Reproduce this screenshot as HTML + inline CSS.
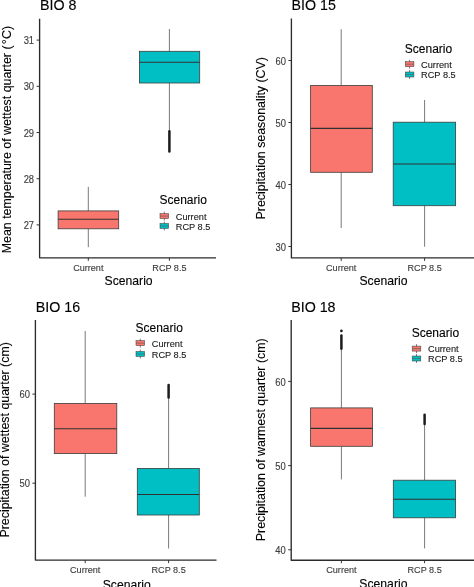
<!DOCTYPE html>
<html><head><meta charset="utf-8"><style>
html,body{margin:0;padding:0;background:#fff;}
svg{display:block;font-family:"Liberation Sans", sans-serif;will-change:transform;}
text.b{stroke:#000;stroke-width:0.12px;}
text.t{stroke:#3c3c3c;stroke-width:0.12px;}
</style></head><body>
<svg width="474" height="587" viewBox="0 0 474 587">
<rect width="474" height="587" fill="#fff"/>
<line x1="88.3" y1="186.9" x2="88.3" y2="210.9" stroke="#6a6a6a" stroke-width="0.9"/>
<line x1="88.3" y1="228.8" x2="88.3" y2="247.2" stroke="#6a6a6a" stroke-width="0.9"/>
<rect x="58.1" y="210.9" width="60.6" height="17.9" fill="#F8766D" stroke="#3d3d3d" stroke-width="0.8"/>
<line x1="58.1" y1="219.3" x2="118.7" y2="219.3" stroke="#303030" stroke-width="1.1"/>
<line x1="169.4" y1="29" x2="169.4" y2="51.3" stroke="#6a6a6a" stroke-width="0.9"/>
<line x1="169.4" y1="83" x2="169.4" y2="130.5" stroke="#6a6a6a" stroke-width="0.9"/>
<line x1="169.4" y1="131.2" x2="169.4" y2="151.4" stroke="#1c1c1c" stroke-width="2.5" stroke-linecap="round"/>
<rect x="139.4" y="51.3" width="60.3" height="31.7" fill="#00BFC4" stroke="#3d3d3d" stroke-width="0.8"/>
<line x1="139.4" y1="62.3" x2="199.7" y2="62.3" stroke="#303030" stroke-width="1.1"/>
<path d="M39.6 18.7 V257.8 H216" fill="none" stroke="#2b2b2b" stroke-width="1.35" stroke-linejoin="round"/>
<line x1="36.6" y1="40.1" x2="39.6" y2="40.1" stroke="#333" stroke-width="1"/>
<text transform="translate(34.1,44.25) scale(1,1.09)" text-anchor="end" font-size="9.4" fill="#3c3c3c" class="t">31</text>
<line x1="36.6" y1="86.3" x2="39.6" y2="86.3" stroke="#333" stroke-width="1"/>
<text transform="translate(34.1,90.45) scale(1,1.09)" text-anchor="end" font-size="9.4" fill="#3c3c3c" class="t">30</text>
<line x1="36.6" y1="132.5" x2="39.6" y2="132.5" stroke="#333" stroke-width="1"/>
<text transform="translate(34.1,136.65) scale(1,1.09)" text-anchor="end" font-size="9.4" fill="#3c3c3c" class="t">29</text>
<line x1="36.6" y1="178.7" x2="39.6" y2="178.7" stroke="#333" stroke-width="1"/>
<text transform="translate(34.1,182.85) scale(1,1.09)" text-anchor="end" font-size="9.4" fill="#3c3c3c" class="t">28</text>
<line x1="36.6" y1="224.9" x2="39.6" y2="224.9" stroke="#333" stroke-width="1"/>
<text transform="translate(34.1,229.05) scale(1,1.09)" text-anchor="end" font-size="9.4" fill="#3c3c3c" class="t">27</text>
<line x1="88.3" y1="257.8" x2="88.3" y2="260.8" stroke="#333" stroke-width="1"/>
<text transform="translate(88.3,271.3) scale(1,1.09)" text-anchor="middle" font-size="9.1" fill="#3c3c3c" class="t">Current</text>
<line x1="169.4" y1="257.8" x2="169.4" y2="260.8" stroke="#333" stroke-width="1"/>
<text transform="translate(169.4,271.3) scale(1,1.09)" text-anchor="middle" font-size="9.1" fill="#3c3c3c" class="t">RCP 8.5</text>
<text x="128.6" y="285.3" text-anchor="middle" font-size="12.2" fill="#000" class="b">Scenario</text>
<text transform="translate(10.8,139.55) rotate(-90)" text-anchor="middle" font-size="12.38" fill="#000" class="b">Mean temperature of wettest quarter <tspan dx="0.3">(</tspan><tspan dx="0.9">°</tspan><tspan dx="0.5">C)</tspan></text>
<text x="40" y="10.2" font-size="14.25" fill="#000" class="b">BIO 8</text>
<text x="159.5" y="204.4" font-size="12" fill="#000" class="b">Scenario</text>
<line x1="164.3" y1="211.7" x2="164.3" y2="220.5" stroke="#555" stroke-width="0.8"/>
<rect x="160" y="213.6" width="8.6" height="5.0" fill="#F8766D" stroke="#444" stroke-width="0.55"/>
<line x1="160" y1="216.1" x2="168.6" y2="216.1" stroke="#555" stroke-width="0.6"/>
<text x="175.8" y="219.7" font-size="9.2" fill="#111" class="t">Current</text>
<line x1="164.3" y1="221.6" x2="164.3" y2="230.4" stroke="#555" stroke-width="0.8"/>
<rect x="160" y="223.5" width="8.6" height="5.0" fill="#00BFC4" stroke="#444" stroke-width="0.55"/>
<line x1="160" y1="226" x2="168.6" y2="226" stroke="#555" stroke-width="0.6"/>
<text x="175.8" y="229.6" font-size="9.2" fill="#111" class="t">RCP 8.5</text>
<line x1="341.2" y1="29.2" x2="341.2" y2="85.4" stroke="#6a6a6a" stroke-width="0.9"/>
<line x1="341.2" y1="172.3" x2="341.2" y2="228" stroke="#6a6a6a" stroke-width="0.9"/>
<rect x="310.6" y="85.4" width="61.7" height="86.9" fill="#F8766D" stroke="#3d3d3d" stroke-width="0.8"/>
<line x1="310.6" y1="128.4" x2="372.3" y2="128.4" stroke="#303030" stroke-width="1.1"/>
<line x1="424.6" y1="100" x2="424.6" y2="122.2" stroke="#6a6a6a" stroke-width="0.9"/>
<line x1="424.6" y1="205.7" x2="424.6" y2="246.7" stroke="#6a6a6a" stroke-width="0.9"/>
<rect x="393.2" y="122.2" width="62.4" height="83.5" fill="#00BFC4" stroke="#3d3d3d" stroke-width="0.8"/>
<line x1="393.2" y1="164" x2="455.6" y2="164" stroke="#303030" stroke-width="1.1"/>
<path d="M291.4 18.6 V257.9 H474" fill="none" stroke="#2b2b2b" stroke-width="1.35" stroke-linejoin="round"/>
<line x1="288.4" y1="60.5" x2="291.4" y2="60.5" stroke="#333" stroke-width="1"/>
<text transform="translate(285.9,64.65) scale(1,1.09)" text-anchor="end" font-size="9.4" fill="#3c3c3c" class="t">60</text>
<line x1="288.4" y1="122.5" x2="291.4" y2="122.5" stroke="#333" stroke-width="1"/>
<text transform="translate(285.9,126.65) scale(1,1.09)" text-anchor="end" font-size="9.4" fill="#3c3c3c" class="t">50</text>
<line x1="288.4" y1="184.5" x2="291.4" y2="184.5" stroke="#333" stroke-width="1"/>
<text transform="translate(285.9,188.65) scale(1,1.09)" text-anchor="end" font-size="9.4" fill="#3c3c3c" class="t">40</text>
<line x1="288.4" y1="246.5" x2="291.4" y2="246.5" stroke="#333" stroke-width="1"/>
<text transform="translate(285.9,250.65) scale(1,1.09)" text-anchor="end" font-size="9.4" fill="#3c3c3c" class="t">30</text>
<line x1="341.2" y1="257.9" x2="341.2" y2="260.9" stroke="#333" stroke-width="1"/>
<text transform="translate(341.2,271.3) scale(1,1.09)" text-anchor="middle" font-size="9.1" fill="#3c3c3c" class="t">Current</text>
<line x1="424.6" y1="257.9" x2="424.6" y2="260.9" stroke="#333" stroke-width="1"/>
<text transform="translate(424.6,271.3) scale(1,1.09)" text-anchor="middle" font-size="9.1" fill="#3c3c3c" class="t">RCP 8.5</text>
<text x="383.5" y="285.3" text-anchor="middle" font-size="12.2" fill="#000" class="b">Scenario</text>
<text transform="translate(264.6,138.25) rotate(-90)" text-anchor="middle" font-size="12.38" fill="#000" class="b">Precipitation seasonality (CV)</text>
<text x="291.5" y="10.2" font-size="14.25" fill="#000" class="b">BIO 15</text>
<text x="404.8" y="52.9" font-size="12" fill="#000" class="b">Scenario</text>
<line x1="409.6" y1="59.8" x2="409.6" y2="68.6" stroke="#555" stroke-width="0.8"/>
<rect x="405.3" y="61.7" width="8.6" height="5.0" fill="#F8766D" stroke="#444" stroke-width="0.55"/>
<line x1="405.3" y1="64.2" x2="413.9" y2="64.2" stroke="#555" stroke-width="0.6"/>
<text x="421.1" y="67.8" font-size="9.2" fill="#111" class="t">Current</text>
<line x1="409.6" y1="70.1" x2="409.6" y2="78.9" stroke="#555" stroke-width="0.8"/>
<rect x="405.3" y="72" width="8.6" height="5.0" fill="#00BFC4" stroke="#444" stroke-width="0.55"/>
<line x1="405.3" y1="74.5" x2="413.9" y2="74.5" stroke="#555" stroke-width="0.6"/>
<text x="421.1" y="78.1" font-size="9.2" fill="#111" class="t">RCP 8.5</text>
<line x1="85.2" y1="331" x2="85.2" y2="403.4" stroke="#6a6a6a" stroke-width="0.9"/>
<line x1="85.2" y1="453.6" x2="85.2" y2="496.7" stroke="#6a6a6a" stroke-width="0.9"/>
<rect x="54.3" y="403.4" width="62.5" height="50.2" fill="#F8766D" stroke="#3d3d3d" stroke-width="0.8"/>
<line x1="54.3" y1="428.7" x2="116.8" y2="428.7" stroke="#303030" stroke-width="1.1"/>
<line x1="168.6" y1="397.5" x2="168.6" y2="468.4" stroke="#6a6a6a" stroke-width="0.9"/>
<line x1="168.6" y1="515" x2="168.6" y2="548.5" stroke="#6a6a6a" stroke-width="0.9"/>
<line x1="168.6" y1="384.9" x2="168.6" y2="397.6" stroke="#1c1c1c" stroke-width="2.5" stroke-linecap="round"/>
<rect x="137.3" y="468.4" width="62" height="46.6" fill="#00BFC4" stroke="#3d3d3d" stroke-width="0.8"/>
<line x1="137.3" y1="494.5" x2="199.3" y2="494.5" stroke="#303030" stroke-width="1.1"/>
<path d="M35.4 320 V560.1 H216.5" fill="none" stroke="#2b2b2b" stroke-width="1.35" stroke-linejoin="round"/>
<line x1="32.4" y1="394.1" x2="35.4" y2="394.1" stroke="#333" stroke-width="1"/>
<text transform="translate(29.9,398.25) scale(1,1.09)" text-anchor="end" font-size="9.4" fill="#3c3c3c" class="t">60</text>
<line x1="32.4" y1="483.2" x2="35.4" y2="483.2" stroke="#333" stroke-width="1"/>
<text transform="translate(29.9,487.35) scale(1,1.09)" text-anchor="end" font-size="9.4" fill="#3c3c3c" class="t">50</text>
<line x1="85.2" y1="560.1" x2="85.2" y2="563.1" stroke="#333" stroke-width="1"/>
<text transform="translate(85.2,573.3) scale(1,1.09)" text-anchor="middle" font-size="9.1" fill="#3c3c3c" class="t">Current</text>
<line x1="168.6" y1="560.1" x2="168.6" y2="563.1" stroke="#333" stroke-width="1"/>
<text transform="translate(168.6,573.3) scale(1,1.09)" text-anchor="middle" font-size="9.1" fill="#3c3c3c" class="t">RCP 8.5</text>
<text x="126.75" y="588.5" text-anchor="middle" font-size="12.2" fill="#000" class="b">Scenario</text>
<text transform="translate(9.4,439.85) rotate(-90)" text-anchor="middle" font-size="12.38" fill="#000" class="b">Precipitation of wettest quarter (cm)</text>
<text x="35.8" y="311.8" font-size="14.25" fill="#000" class="b">BIO 16</text>
<text x="135.5" y="331.5" font-size="12" fill="#000" class="b">Scenario</text>
<line x1="140.3" y1="338.7" x2="140.3" y2="347.5" stroke="#555" stroke-width="0.8"/>
<rect x="136" y="340.6" width="8.6" height="5.0" fill="#F8766D" stroke="#444" stroke-width="0.55"/>
<line x1="136" y1="343.1" x2="144.6" y2="343.1" stroke="#555" stroke-width="0.6"/>
<text x="151.8" y="346.7" font-size="9.2" fill="#111" class="t">Current</text>
<line x1="140.3" y1="349.6" x2="140.3" y2="358.4" stroke="#555" stroke-width="0.8"/>
<rect x="136" y="351.5" width="8.6" height="5.0" fill="#00BFC4" stroke="#444" stroke-width="0.55"/>
<line x1="136" y1="354" x2="144.6" y2="354" stroke="#555" stroke-width="0.6"/>
<text x="151.8" y="357.6" font-size="9.2" fill="#111" class="t">RCP 8.5</text>
<line x1="341.4" y1="350" x2="341.4" y2="407.9" stroke="#6a6a6a" stroke-width="0.9"/>
<line x1="341.4" y1="446.3" x2="341.4" y2="479.4" stroke="#6a6a6a" stroke-width="0.9"/>
<line x1="341.4" y1="335.6" x2="341.4" y2="348.7" stroke="#1c1c1c" stroke-width="2.5" stroke-linecap="round"/>
<circle cx="341.4" cy="330.9" r="1.35" fill="#1c1c1c"/>
<rect x="310.6" y="407.9" width="61.9" height="38.4" fill="#F8766D" stroke="#3d3d3d" stroke-width="0.8"/>
<line x1="310.6" y1="428.4" x2="372.5" y2="428.4" stroke="#303030" stroke-width="1.1"/>
<line x1="424.6" y1="424.6" x2="424.6" y2="480.2" stroke="#6a6a6a" stroke-width="0.9"/>
<line x1="424.6" y1="517.8" x2="424.6" y2="548.4" stroke="#6a6a6a" stroke-width="0.9"/>
<line x1="424.6" y1="414.7" x2="424.6" y2="423.9" stroke="#1c1c1c" stroke-width="2.5" stroke-linecap="round"/>
<rect x="393.3" y="480.2" width="62.3" height="37.6" fill="#00BFC4" stroke="#3d3d3d" stroke-width="0.8"/>
<line x1="393.3" y1="499.3" x2="455.6" y2="499.3" stroke="#303030" stroke-width="1.1"/>
<path d="M291.2 320 V560.2 H474" fill="none" stroke="#2b2b2b" stroke-width="1.35" stroke-linejoin="round"/>
<line x1="288.2" y1="381.4" x2="291.2" y2="381.4" stroke="#333" stroke-width="1"/>
<text transform="translate(285.7,385.55) scale(1,1.09)" text-anchor="end" font-size="9.4" fill="#3c3c3c" class="t">60</text>
<line x1="288.2" y1="465.6" x2="291.2" y2="465.6" stroke="#333" stroke-width="1"/>
<text transform="translate(285.7,469.75) scale(1,1.09)" text-anchor="end" font-size="9.4" fill="#3c3c3c" class="t">50</text>
<line x1="288.2" y1="549.8" x2="291.2" y2="549.8" stroke="#333" stroke-width="1"/>
<text transform="translate(285.7,553.95) scale(1,1.09)" text-anchor="end" font-size="9.4" fill="#3c3c3c" class="t">40</text>
<line x1="341.4" y1="560.2" x2="341.4" y2="563.2" stroke="#333" stroke-width="1"/>
<text transform="translate(341.4,573.4) scale(1,1.09)" text-anchor="middle" font-size="9.1" fill="#3c3c3c" class="t">Current</text>
<line x1="424.6" y1="560.2" x2="424.6" y2="563.2" stroke="#333" stroke-width="1"/>
<text transform="translate(424.6,573.4) scale(1,1.09)" text-anchor="middle" font-size="9.1" fill="#3c3c3c" class="t">RCP 8.5</text>
<text x="383.4" y="587.5" text-anchor="middle" font-size="12.2" fill="#000" class="b">Scenario</text>
<text transform="translate(265.2,439.8) rotate(-90)" text-anchor="middle" font-size="12.38" fill="#000" class="b">Precipitation of warmest quarter (cm)</text>
<text x="291.2" y="311.9" font-size="14.25" fill="#000" class="b">BIO 18</text>
<text x="411.7" y="336.5" font-size="12" fill="#000" class="b">Scenario</text>
<line x1="416.5" y1="344.2" x2="416.5" y2="353" stroke="#555" stroke-width="0.8"/>
<rect x="412.2" y="346.1" width="8.6" height="5.0" fill="#F8766D" stroke="#444" stroke-width="0.55"/>
<line x1="412.2" y1="348.6" x2="420.8" y2="348.6" stroke="#555" stroke-width="0.6"/>
<text x="428" y="352.2" font-size="9.2" fill="#111" class="t">Current</text>
<line x1="416.5" y1="354.1" x2="416.5" y2="362.9" stroke="#555" stroke-width="0.8"/>
<rect x="412.2" y="356" width="8.6" height="5.0" fill="#00BFC4" stroke="#444" stroke-width="0.55"/>
<line x1="412.2" y1="358.5" x2="420.8" y2="358.5" stroke="#555" stroke-width="0.6"/>
<text x="428" y="362.1" font-size="9.2" fill="#111" class="t">RCP 8.5</text>
</svg>
</body></html>
